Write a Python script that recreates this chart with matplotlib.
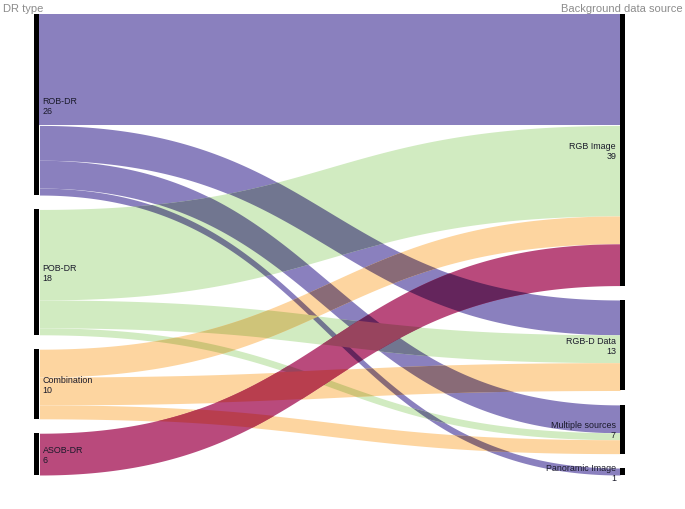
import numpy as np
import matplotlib
matplotlib.use("Agg")
import matplotlib.pyplot as plt
from matplotlib.colors import to_rgb
from matplotlib.patches import Rectangle

plt.rcParams["font.family"] = ["Liberation Sans", "DejaVu Sans"]

# ==========================================
# DATA
# ==========================================
dr_types = ["ROB-DR", "POB-DR", "Combination", "ASOB-DR"]
data_sources = ["RGB Image", "RGB-D Data", "Multiple sources", "Panoramic Image"]

# rows = DR type, columns = data source
rob_dr = [16, 5, 4, 1]
pob_dr = [13, 4, 1, 0]
combination = [4, 4, 2, 0]
asob_dr = [6, 0, 0, 0]

link_colors = ["#8a80be", "#d1ebc1", "#fdd5a0", "#b94a7c"]

# ==========================================
# LAYOUT (figure in pixels)
# ==========================================
W, H = 685, 510
top, bottom = 15, 476
gap = 14.4
x_left_bar, x_right_bar = 34, 620
bar_w = 5.5

flows = np.array([rob_dr, pob_dr, combination, asob_dr], dtype=float)
src_tot = flows.sum(axis=1)
tgt_tot = flows.sum(axis=0)
k = (bottom - top - gap * (len(dr_types) - 1)) / flows.sum()


def node_positions(totals):
    pos, y = [], top
    for t in totals:
        pos.append(y)
        y += t * k + gap
    return pos


src_y = node_positions(src_tot)
tgt_y = node_positions(tgt_tot)

fig = plt.figure(figsize=(W / 100, H / 100), dpi=100)
ax = fig.add_axes([0, 0, 1, 1])
ax.set_xlim(0, W)
ax.set_ylim(H, 0)
ax.axis("off")

# bezier link shape (horizontal sankey link)
x0 = x_left_bar + bar_w
x1 = x_right_bar
xm = (x0 + x1) / 2
t = np.linspace(0, 1, 300)
bx = x0 * (1 - t) ** 3 + 3 * xm * (1 - t) ** 2 * t + 3 * xm * (1 - t) * t ** 2 + x1 * t ** 3
by = 3 * (1 - t) * t ** 2 + t ** 3

# stack offsets: at source by target order, at target by source order
src_start, tgt_start = {}, {}
for i in range(len(dr_types)):
    y = src_y[i]
    for j in range(len(data_sources)):
        src_start[(i, j)] = y
        y += flows[i, j] * k
for j in range(len(data_sources)):
    y = tgt_y[j]
    for i in range(len(dr_types)):
        tgt_start[(i, j)] = y
        y += flows[i, j] * k

# draw links; overlaps get multiplied colours (like a multiply blend)
drawn = []
for i in range(len(dr_types)):
    for j in range(len(data_sources)):
        v = flows[i, j]
        if v == 0:
            continue
        ya, yb = src_start[(i, j)], tgt_start[(i, j)]
        ytop = ya + (yb - ya) * by
        ybot = ytop + v * k
        coll = ax.fill_between(bx, ytop, ybot, color=link_colors[i], lw=0, zorder=1)
        for pi, pcoll in drawn:
            if pi == i:
                continue
            mix = np.array(to_rgb(link_colors[i])) * np.array(to_rgb(link_colors[pi]))
            over = ax.fill_between(bx, ytop, ybot, color=mix, lw=0, zorder=1)
            over.set_clip_path(pcoll.get_paths()[0], ax.transData)
        drawn.append((i, coll))

# nodes
lbl = dict(fontsize=6.4, color="#1a1a2a", va="center", zorder=4)
for i, name in enumerate(dr_types):
    y, h = src_y[i], src_tot[i] * k
    ax.add_patch(Rectangle((x_left_bar, y), bar_w, h, color="black", lw=0, zorder=3))
    c = y + h / 2
    ax.text(x_left_bar + bar_w + 3, c - 4.5, name, ha="left", **lbl)
    ax.text(x_left_bar + bar_w + 3, c + 5.5, f"{int(src_tot[i])}", ha="left", **lbl)

for j, name in enumerate(data_sources):
    y, h = tgt_y[j], tgt_tot[j] * k
    ax.add_patch(Rectangle((x_right_bar, y), bar_w, h, color="black", lw=0, zorder=3))
    c = y + h / 2
    ax.text(x_right_bar - 4, c - 4.5, name, ha="right", **lbl)
    ax.text(x_right_bar - 4, c + 5.5, f"{int(tgt_tot[j])}", ha="right", **lbl)

# column headers
ax.text(3, 8.5, "DR type", fontsize=8, color="#8c8c8c", va="center", ha="left")
ax.text(W - 2, 8.5, "Background data source", fontsize=8, color="#8c8c8c", va="center", ha="right")

plt.savefig("out.png", dpi=100)
